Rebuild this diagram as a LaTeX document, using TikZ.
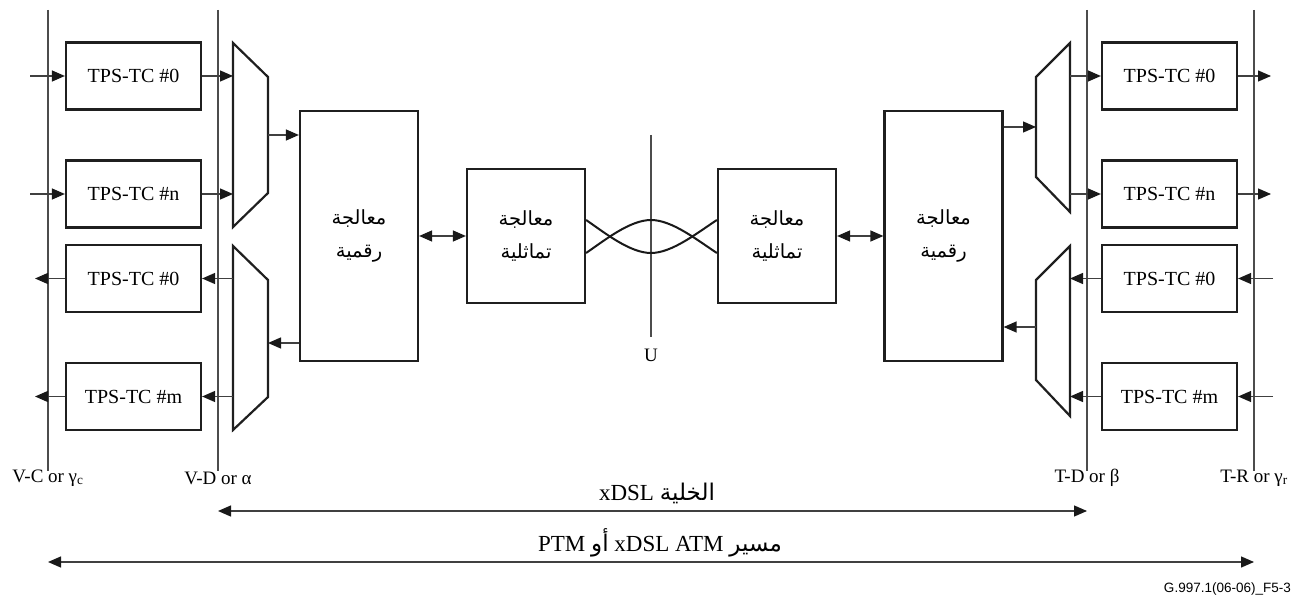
\documentclass[tikz,border=0pt]{standalone}
\usepackage{fontspec}
\setmainfont{Liberation Serif}
\newfontfamily\arabicfont[Script=Arabic]{DejaVu Sans}
\newfontfamily\sansfnt{Liberation Sans}
\TeXXeTstate=1
\usetikzlibrary{arrows.meta}
\begin{document}
\begin{tikzpicture}[x=1pt,y=-1pt,
  box/.style={draw=black!88, line width=2.2pt, inner sep=0pt},
  tps/.style={box, minimum width=135pt, minimum height=67pt, font=\fontsize{20}{24}\selectfont},
  dig/.style={box, minimum width=118pt, minimum height=250pt, align=center, font=\arabicfont\fontsize{19.5}{33}\selectfont},
  ana/.style={box, minimum width=118pt, minimum height=134pt, align=center, font=\arabicfont\fontsize{19.5}{33}\selectfont},
  mux/.style={draw=black!88, line width=2.2pt, line join=miter},
  tip/.style={},
  conn/.style={draw=black!75, line width=1.3pt, -{Triangle[length=13pt,width=11pt,color=black!90]}},
  dconn/.style={draw=black!75, line width=1.3pt, {Triangle[length=13pt,width=11pt,color=black!90]}-{Triangle[length=13pt,width=11pt,color=black!90]}},
  refline/.style={draw=black!70, line width=1.2pt},
  lbl/.style={font=\fontsize{19}{22}\selectfont, inner sep=0pt},
  pair/.style={draw=black!90, line width=2pt}
]
\useasboundingbox (0,0) rectangle (1300,601);

% reference lines
\coordinate (vct) at (48,10);   \coordinate (vcb) at (48,471);
\coordinate (vdt) at (218,10);  \coordinate (vdb) at (218,471);
\coordinate (tdt) at (1087,10); \coordinate (tdb) at (1087,471);
\coordinate (trt) at (1254,10); \coordinate (trb) at (1254,471);
\draw[refline] (vct) -- (vcb);
\draw[refline] (vdt) -- (vdb);
\draw[refline] (tdt) -- (tdb);
\draw[refline] (trt) -- (trb);

\node[lbl] (vcl) at (48,478) {V-C or γ\textsubscript{c}};
\node[lbl] (vdl) at (218,478) {V-D or α};
\node[lbl] (tdl) at (1087,478) {T-D or β};
\node[lbl] (trl) at (1254,478) {T-R or γ\textsubscript{r}};

% left TPS-TC boxes
\node[tps] (l1) at (133.5,76) {TPS-TC \#0};
\node[tps] (l2) at (133.5,194) {TPS-TC \#n};
\node[tps] (l3) at (133.5,278.5) {TPS-TC \#0};
\node[tps] (l4) at (133.5,396.5) {TPS-TC \#m};
% right TPS-TC boxes
\node[tps] (r1) at (1169.5,76) {TPS-TC \#0};
\node[tps] (r2) at (1169.5,194) {TPS-TC \#n};
\node[tps] (r3) at (1169.5,278.5) {TPS-TC \#0};
\node[tps] (r4) at (1169.5,396.5) {TPS-TC \#m};

% processing boxes
\node[dig] (ld) at (359,236) {\beginR معالجة\endR\\\beginR رقمية\endR};
\node[ana] (la) at (526,236) {\beginR معالجة\endR\\\beginR تماثلية\endR};
\node[ana] (ra) at (777,236) {\beginR معالجة\endR\\\beginR تماثلية\endR};
\node[dig] (rd) at (943.5,236) {\beginR معالجة\endR\\\beginR رقمية\endR};

% multiplexers
\draw[mux] (233,43) -- (268,77) -- (268,193) -- (233,227) -- cycle;
\draw[mux] (233,246) -- (268,280) -- (268,397) -- (233,430) -- cycle;
\draw[mux] (1070,43) -- (1036,77) -- (1036,177) -- (1070,212) -- cycle;
\draw[mux] (1070,246) -- (1036,280) -- (1036,380) -- (1070,416) -- cycle;
\coordinate (lmL) at (233,0);
\coordinate (lmo) at (268,135);
\coordinate (lmi) at (268,343);
\coordinate (rmR) at (1070,0);
\coordinate (rmo) at (1036,127);
\coordinate (rmi) at (1036,327);
\coordinate (lin) at (30,0);
\coordinate (lout) at (35,0);
\coordinate (rout) at (1271,0);
\coordinate (rin) at (1273,0);

% left connectors
\draw[conn] (l1.west -| lin) -- (l1.west);
\draw[conn] (l2.west -| lin) -- (l2.west);
\draw[conn] (l3.west) -- (l3.west -| lout);
\draw[conn] (l4.west) -- (l4.west -| lout);
\draw[conn] (l1.east) -- (l1.east -| lmL);
\draw[conn] (l2.east) -- (l2.east -| lmL);
\draw[conn] (l3.east -| lmL) -- (l3.east);
\draw[conn] (l4.east -| lmL) -- (l4.east);
\draw[conn] (lmo) -- (lmo -| ld.west);
\draw[conn] (lmi -| ld.west) -- (lmi);

% right connectors
\draw[conn] (r1.east) -- (r1.east -| rout);
\draw[conn] (r2.east) -- (r2.east -| rout);
\draw[conn] (r3.east -| rin) -- (r3.east);
\draw[conn] (r4.east -| rin) -- (r4.east);
\draw[conn] (r1.west -| rmR) -- (r1.west);
\draw[conn] (r2.west -| rmR) -- (r2.west);
\draw[conn] (r3.west) -- (r3.west -| rmR);
\draw[conn] (r4.west) -- (r4.west -| rmR);
\draw[conn] (rmo -| rd.east) -- (rmo);
\draw[conn] (rmi) -- (rmi -| rd.east);

% digital <-> analog
\draw[dconn] (ld.east) -- (la.west);
\draw[dconn] (ra.east) -- (rd.west);

% twisted pair
\coordinate (ut) at (651,135);
\coordinate (ub) at (651,337);
\draw[refline] (ut) -- (ub);
\node[lbl] (ulbl) at (651,355) {U};
\coordinate (pm1) at (651,253);
\coordinate (pm2) at (651,220);
\draw[pair] ([yshift=16pt]la.east) .. controls (605,233) and (630,253) .. (pm1)
   .. controls (672,253) and (697,233) .. ([yshift=16pt]ra.west);
\draw[pair] ([yshift=-17pt]la.east) .. controls (605,240) and (630,220) .. (pm2)
   .. controls (672,220) and (697,240) .. ([yshift=-17pt]ra.west);

% spans
\coordinate (s1l) at (218,511); \coordinate (s1r) at (1087,511);
\coordinate (s2l) at (48,562);  \coordinate (s2r) at (1254,562);
\draw[dconn] (s1l) -- (s1r);
\draw[dconn] (s2l) -- (s2r);
\node[font=\fontsize{23}{26}\selectfont, inner sep=0pt] (cellt) at (657,493)
  {\beginR{\arabicfont الخلية} \beginL xDSL\endL\endR};
\node[font=\fontsize{23}{26}\selectfont, inner sep=0pt] (patht) at (660,543)
  {\beginR{\arabicfont مسير} \beginL xDSL ATM\endL{} {\arabicfont أو} \beginL PTM\endL\endR};

\node[font=\sansfnt\fontsize{13.5}{16}\selectfont, anchor=east, inner sep=0pt] (fig) at (1291,589) {G.997.1(06-06)\_F5-3};
\end{tikzpicture}
\end{document}
